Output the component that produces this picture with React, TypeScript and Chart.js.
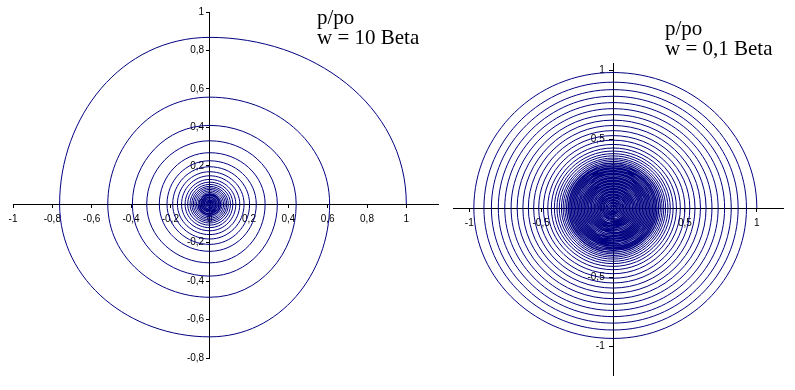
import React, { useEffect, useRef } from 'react';
import { Chart, registerables } from 'chart.js';

Chart.register(...registerables);

// Unit directions of the four quarter-turn crossings (right, top, left, bottom)
const quarterDirX = [1, 0, -1, 0];
const quarterDirY = [0, 1, 0, -1];

// Left spiral (w = 10 Beta): radius read at each axis crossing, turning counter-clockwise from (1, 0)
const leftLeadInRadius = 1.17; // where the curve would come from (bottom axis), only used for the start tangent
const leftCoreRadius = 0.06;
const leftRadii = [
  1.000, 0.868, 0.763, 0.690,
  0.610, 0.557, 0.518, 0.484,
  0.440, 0.410, 0.393, 0.374,
  0.344, 0.330, 0.320, 0.305,
  0.282, 0.268, 0.256, 0.245,
  0.237, 0.226, 0.217, 0.209,
  0.203, 0.195, 0.188, 0.181,
  0.175, 0.169, 0.164, 0.158,
  0.153, 0.148, 0.143, 0.138,
  0.133, 0.129, 0.125, 0.122,
  0.118, 0.115, 0.112, 0.109,
  0.106, 0.103, 0.100, 0.098,
  0.095, 0.093, 0.091, 0.089,
  0.087, 0.085, 0.083, 0.081,
  0.079, 0.077, 0.075, 0.073,
  0.071, 0.069, 0.067, 0.065,
  0.063, 0.061, 0.059, 0.057,
  0.055, 0.053, 0.051, 0.049,
  0.047, 0.045, 0.043, 0.041,
  0.039, 0.037, 0.035, 0.033,
  0.031, 0.029, 0.027, 0.025,
  0.023, 0.021, 0.019, 0.017,
  0.015, 0.013, 0.011, 0.009,
  0.007, 0.005, 0.003, 0.001,
];

// Right spiral (w = 0,1 Beta)
const rightLeadInRadius = 1.02;
const rightCoreRadius = 0.33;
const rightRadii = [
  1.000, 0.982, 0.968, 0.945,
  0.928, 0.912, 0.898, 0.884,
  0.870, 0.858, 0.846, 0.834,
  0.822, 0.810, 0.798, 0.787,
  0.776, 0.764, 0.753, 0.742,
  0.731, 0.720, 0.709, 0.698,
  0.688, 0.677, 0.667, 0.657,
  0.647, 0.637, 0.627, 0.617,
  0.608, 0.598, 0.589, 0.580,
  0.570, 0.561, 0.552, 0.543,
  0.534, 0.525, 0.517, 0.509,
  0.500, 0.492, 0.484, 0.476,
  0.468, 0.461, 0.454, 0.447,
  0.441, 0.435, 0.429, 0.423,
  0.418, 0.413, 0.408, 0.403,
  0.398, 0.394, 0.390, 0.386,
  0.382, 0.378, 0.374, 0.370,
  0.366, 0.362, 0.359, 0.356,
  0.353, 0.350, 0.347, 0.344,
  0.341, 0.338, 0.335, 0.332,
  0.329, 0.326, 0.323, 0.320,
  0.317, 0.314, 0.311, 0.308,
  0.306, 0.303, 0.301, 0.298,
  0.296, 0.293, 0.291, 0.288,
  0.286, 0.283, 0.281, 0.278,
  0.276, 0.273, 0.271, 0.268,
  0.266, 0.263, 0.261, 0.258,
  0.256, 0.253, 0.251, 0.248,
  0.246, 0.243, 0.241, 0.238,
  0.236, 0.233, 0.231, 0.228,
  0.226, 0.223, 0.221, 0.218,
  0.216, 0.213, 0.211, 0.208,
  0.206, 0.203, 0.201, 0.198,
  0.196, 0.193, 0.191, 0.188,
  0.186, 0.183, 0.181, 0.178,
  0.176, 0.173, 0.171, 0.168,
  0.166, 0.163, 0.161, 0.158,
  0.156, 0.153, 0.151, 0.148,
  0.146, 0.143, 0.141, 0.138,
  0.136, 0.133, 0.131, 0.128,
  0.126, 0.123, 0.121, 0.118,
  0.116, 0.113, 0.111, 0.108,
  0.106, 0.103, 0.101, 0.098,
  0.096, 0.093, 0.091, 0.088,
  0.086, 0.083, 0.081, 0.078,
  0.076, 0.073, 0.071, 0.068,
  0.066, 0.063, 0.061, 0.058,
  0.056, 0.053, 0.051, 0.048,
  0.046, 0.043, 0.041, 0.038,
  0.036, 0.033, 0.031, 0.028,
  0.026, 0.023, 0.021, 0.018,
  0.016, 0.013, 0.011, 0.008,
  0.006, 0.003, 0.001,
];

const leftXTicks = [-1, -0.8, -0.6, -0.4, -0.2, 0, 0.2, 0.4, 0.6, 0.8, 1];
const leftYTicks = [-0.8, -0.6, -0.4, -0.2, 0, 0.2, 0.4, 0.6, 0.8, 1];
const rightXTicks = [-1, -0.5, 0, 0.5, 1];
const rightYTicks = [-1, -0.5, 0, 0.5, 1];

const leftTitle = ['p/po', 'w = 10 Beta'];
const rightTitle = ['p/po', 'w = 0,1 Beta'];

const fmt = (v: number) => String(v).replace('.', ',');

function toPoints(radii: number[], leadIn: number) {
  const pts = [{ x: 0, y: -leadIn }];
  radii.forEach((r, i) => pts.push({ x: r * quarterDirX[i % 4], y: r * quarterDirY[i % 4] }));
  return pts;
}

type SpiralProps = {
  radii: number[];
  leadIn: number;
  coreRadius: number;
  coreWidth: number;
  xTicks: number[];
  yTicks: number[];
  xMin: number; xMax: number; yMin: number; yMax: number;
  left: number; top: number; width: number; height: number;
  padding: { left: number; top: number; right: number; bottom: number };
  yTickLen: number; yLabelGap: string; xTickPad: number;
};

function Spiral(p: SpiralProps) {
  const ref = useRef<HTMLCanvasElement>(null);
  useEffect(() => {
    if (!ref.current) return;
    const font = { family: "'Liberation Sans', Arial, sans-serif", size: 10 };
    const chart = new Chart(ref.current, {
      type: 'scatter',
      data: {
        datasets: [{
          data: toPoints(p.radii, p.leadIn),
          showLine: true,
          borderColor: '#000080',
          borderWidth: 1,
          pointRadius: 0,
          tension: 0.55,
          fill: false,
          segment: {
            borderColor: (ctx: any) => (ctx.p0DataIndex === 0 ? 'rgba(0,0,0,0)' : undefined),
            borderWidth: (ctx: any) => {
              const r = p.radii[ctx.p0DataIndex - 1];
              return r !== undefined && r < p.coreRadius ? p.coreWidth : undefined;
            },
          },
        }],
      },
      options: {
        animation: false,
        responsive: false,
        devicePixelRatio: 1,
        events: [],
        layout: { padding: p.padding },
        plugins: { legend: { display: false }, tooltip: { enabled: false } },
        scales: {
          x: {
            type: 'linear',
            min: p.xMin, max: p.xMax,
            position: { y: 0 } as any,
            afterBuildTicks: (s: any) => { s.ticks = p.xTicks.map((v) => ({ value: v })); },
            afterFit: (s: any) => { s.height = 0; },
            grid: { drawOnChartArea: false, drawTicks: true, tickLength: 3, color: '#000' },
            border: { display: true, color: '#000', width: 1 },
            ticks: { padding: p.xTickPad, font, color: '#000', maxRotation: 0, autoSkip: false, callback: (v: any) => fmt(Number(v)) },
          },
          y: {
            type: 'linear',
            min: p.yMin, max: p.yMax,
            position: { x: 0 } as any,
            afterBuildTicks: (s: any) => { s.ticks = p.yTicks.map((v) => ({ value: v })); },
            afterFit: (s: any) => { s.width = 0; },
            grid: { drawOnChartArea: false, drawTicks: true, tickLength: p.yTickLen, color: '#000' },
            border: { display: true, color: '#000', width: 1 },
            ticks: { padding: 0, font, color: '#000', autoSkip: false, callback: (v: any) => fmt(Number(v)) + p.yLabelGap },
          },
        },
      } as any,
    });
    return () => chart.destroy();
  }, []);
  return (
    <canvas
      ref={ref}
      width={p.width}
      height={p.height}
      style={{ position: 'absolute', left: p.left, top: p.top, width: p.width, height: p.height }}
    />
  );
}

const titleStyle: React.CSSProperties = {
  position: 'absolute',
  fontFamily: "'Liberation Serif', 'Times New Roman', serif",
  fontSize: 21,
  lineHeight: '20px',
  color: '#000',
  whiteSpace: 'pre',
};

export default function App() {
  return (
    <div style={{ position: 'fixed', left: 0, top: 0, width: 795, height: 390, overflow: 'hidden', background: '#fff' }}>
      <Spiral
        radii={leftRadii} leadIn={leftLeadInRadius} coreRadius={leftCoreRadius} coreWidth={1.4}
        xTicks={leftXTicks} yTicks={leftYTicks}
        xMin={-1} xMax={1.161} yMin={-0.8} yMax={1}
        left={0} top={0} width={452} height={373}
        padding={{ left: 13, top: 12, right: 14, bottom: 15 }}
        yTickLen={3} yLabelGap={'  '} xTickPad={6}
      />
      <Spiral
        radii={rightRadii} leadIn={rightLeadInRadius} coreRadius={rightCoreRadius} coreWidth={1.25}
        xTicks={rightXTicks} yTicks={rightYTicks}
        xMin={-1.113} xMax={1.182} yMin={-1.21} yMax={1.051}
        left={438} top={48} width={355} height={337}
        padding={{ left: 15, top: 15, right: 10, bottom: 10 }}
        yTickLen={4} yLabelGap={'   '} xTickPad={6}
      />
      <div style={{ ...titleStyle, left: 317, top: 7 }}>{leftTitle.join('\n')}</div>
      <div style={{ ...titleStyle, left: 665, top: 18 }}>{rightTitle.join('\n')}</div>
    </div>
  );
}
